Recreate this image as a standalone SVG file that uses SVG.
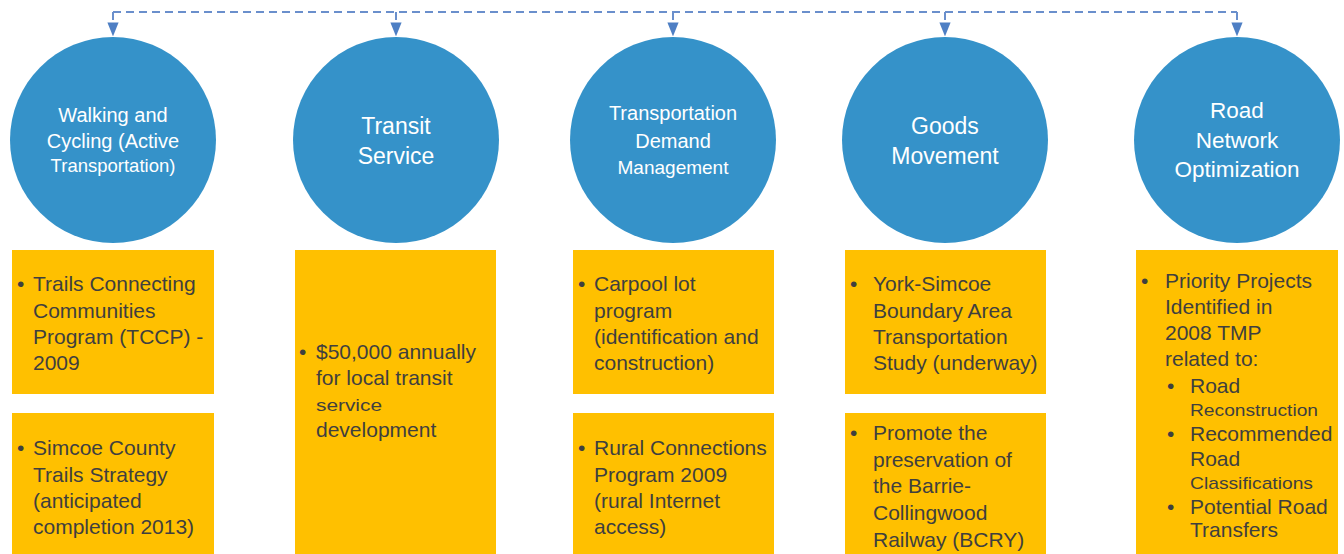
<svg xmlns="http://www.w3.org/2000/svg" width="1344" height="554" viewBox="0 0 1344 554">
  <defs>
    <marker id="arrow" viewBox="0 0 10 10" refX="9" refY="5" markerWidth="7" markerHeight="7" orient="auto">
      <path d="M0,1 L10,5 L0,9 Z" fill="#4E7FC4"/>
    </marker>
    <style>
      .circle { fill: #3592C9; }
      .ctext { fill: #FFFFFF; font-family: "Liberation Sans", Arial, sans-serif; text-anchor: middle; }
      .box { fill: #FFC000; }
      .btext { fill: #3F3F3F; font-family: "Liberation Sans", Arial, sans-serif; font-size: 21px; }
      .small { font-size: 17px; }
      .conn { fill: none; stroke: #6A8FCC; stroke-width: 2; stroke-dasharray: 8 5; }
      .drop { fill: none; stroke: #6A8FCC; stroke-width: 2; stroke-dasharray: 8 5; marker-end: url(#arrow); }
    </style>
  </defs>
  <rect width="1344" height="554" fill="#FFFFFF"/>

  <!-- dashed bus linking the five themes -->
  <g id="connectors">
    <path class="conn" d="M113,12 H1237"/>
    <path class="drop" d="M113,12 V35"/>
    <path class="drop" d="M396,12 V35"/>
    <path class="drop" d="M673,12 V35"/>
    <path class="drop" d="M945,12 V35"/>
    <path class="drop" d="M1237,12 V35"/>
  </g>

  <!-- Walking and Cycling -->
  <g id="walking-cycling">
    <circle class="circle" cx="113" cy="140" r="103"/>
    <text class="ctext" font-size="20"><tspan x="113" y="122">Walking and</tspan><tspan x="113" y="148">Cycling (Active</tspan><tspan x="113" y="172" font-size="18.5">Transportation)</tspan></text>
  </g>
  <g id="walking-box-1">
    <rect class="box" x="12" y="250" width="202" height="144"/>
    <text class="btext"><tspan x="17" y="291">•</tspan><tspan x="33" y="291">Trails Connecting</tspan><tspan x="33" y="318">Communities</tspan><tspan x="33" y="344">Program (TCCP) -</tspan><tspan x="33" y="370">2009</tspan></text>
  </g>
  <g id="walking-box-2">
    <rect class="box" x="12" y="413" width="202" height="141"/>
    <text class="btext"><tspan x="17" y="455">•</tspan><tspan x="33" y="455">Simcoe County</tspan><tspan x="33" y="482">Trails Strategy</tspan><tspan x="33" y="508">(anticipated</tspan><tspan x="33" y="534">completion 2013)</tspan></text>
  </g>

  <!-- Transit Service -->
  <g id="transit-service">
    <circle class="circle" cx="396" cy="140" r="103"/>
    <text class="ctext" font-size="23"><tspan x="396" y="134">Transit</tspan><tspan x="396" y="164">Service</tspan></text>
  </g>
  <g id="transit-box">
    <rect class="box" x="295" y="250" width="201" height="304"/>
    <text class="btext"><tspan x="299" y="359">•</tspan><tspan x="316" y="359">$50,000 annually</tspan><tspan x="316" y="385">for local transit</tspan></text>
    <text class="btext small" x="316" y="411" textLength="66" lengthAdjust="spacingAndGlyphs">service</text>
    <text class="btext" x="316" y="437">development</text>
  </g>

  <!-- Transportation Demand Management -->
  <g id="tdm">
    <circle class="circle" cx="673" cy="140" r="103"/>
    <text class="ctext" font-size="20"><tspan x="673" y="120">Transportation</tspan><tspan x="673" y="148">Demand</tspan><tspan x="673" y="174" font-size="19">Management</tspan></text>
  </g>
  <g id="tdm-box-1">
    <rect class="box" x="573" y="250" width="201" height="144"/>
    <text class="btext"><tspan x="578" y="291">•</tspan><tspan x="594" y="291">Carpool lot</tspan><tspan x="594" y="318">program</tspan><tspan x="594" y="344">(identification and</tspan><tspan x="594" y="370">construction)</tspan></text>
  </g>
  <g id="tdm-box-2">
    <rect class="box" x="573" y="413" width="201" height="141"/>
    <text class="btext"><tspan x="578" y="455">•</tspan><tspan x="594" y="455">Rural Connections</tspan><tspan x="594" y="482">Program 2009</tspan><tspan x="594" y="508">(rural Internet</tspan><tspan x="594" y="534">access)</tspan></text>
  </g>

  <!-- Goods Movement -->
  <g id="goods-movement">
    <circle class="circle" cx="945" cy="140" r="103"/>
    <text class="ctext" font-size="23"><tspan x="945" y="134">Goods</tspan><tspan x="945" y="164">Movement</tspan></text>
  </g>
  <g id="goods-box-1">
    <rect class="box" x="845" y="250" width="201" height="144"/>
    <text class="btext"><tspan x="850" y="291">•</tspan><tspan x="873" y="291">York-Simcoe</tspan><tspan x="873" y="318">Boundary Area</tspan><tspan x="873" y="344">Transportation</tspan><tspan x="873" y="370">Study (underway)</tspan></text>
  </g>
  <g id="goods-box-2">
    <rect class="box" x="845" y="413" width="201" height="141"/>
    <text class="btext"><tspan x="850" y="440">•</tspan><tspan x="873" y="440">Promote the</tspan><tspan x="873" y="467">preservation of</tspan><tspan x="873" y="493">the Barrie-</tspan><tspan x="873" y="520">Collingwood</tspan><tspan x="873" y="547">Railway (BCRY)</tspan></text>
  </g>

  <!-- Road Network Optimization -->
  <g id="road-network">
    <circle class="circle" cx="1237" cy="140" r="103"/>
    <text class="ctext" font-size="22.5"><tspan x="1237" y="118">Road</tspan><tspan x="1237" y="148">Network</tspan><tspan x="1237" y="177">Optimization</tspan></text>
  </g>
  <g id="road-box">
    <rect class="box" x="1136" y="250" width="202" height="304"/>
    <text class="btext"><tspan x="1141" y="288">•</tspan><tspan x="1165" y="288">Priority Projects</tspan><tspan x="1165" y="314">Identified in</tspan><tspan x="1165" y="340">2008 TMP</tspan><tspan x="1165" y="366">related to:</tspan><tspan x="1167" y="393">•</tspan><tspan x="1190" y="393">Road</tspan></text>
    <text class="btext small" x="1190" y="416" textLength="128" lengthAdjust="spacingAndGlyphs">Reconstruction</text>
    <text class="btext"><tspan x="1167" y="441">•</tspan><tspan x="1190" y="441">Recommended</tspan><tspan x="1190" y="466">Road</tspan></text>
    <text class="btext small" x="1190" y="489" textLength="123" lengthAdjust="spacingAndGlyphs">Classifications</text>
    <text class="btext"><tspan x="1167" y="514">•</tspan><tspan x="1190" y="514">Potential Road</tspan><tspan x="1190" y="537">Transfers</tspan></text>
  </g>
</svg>
